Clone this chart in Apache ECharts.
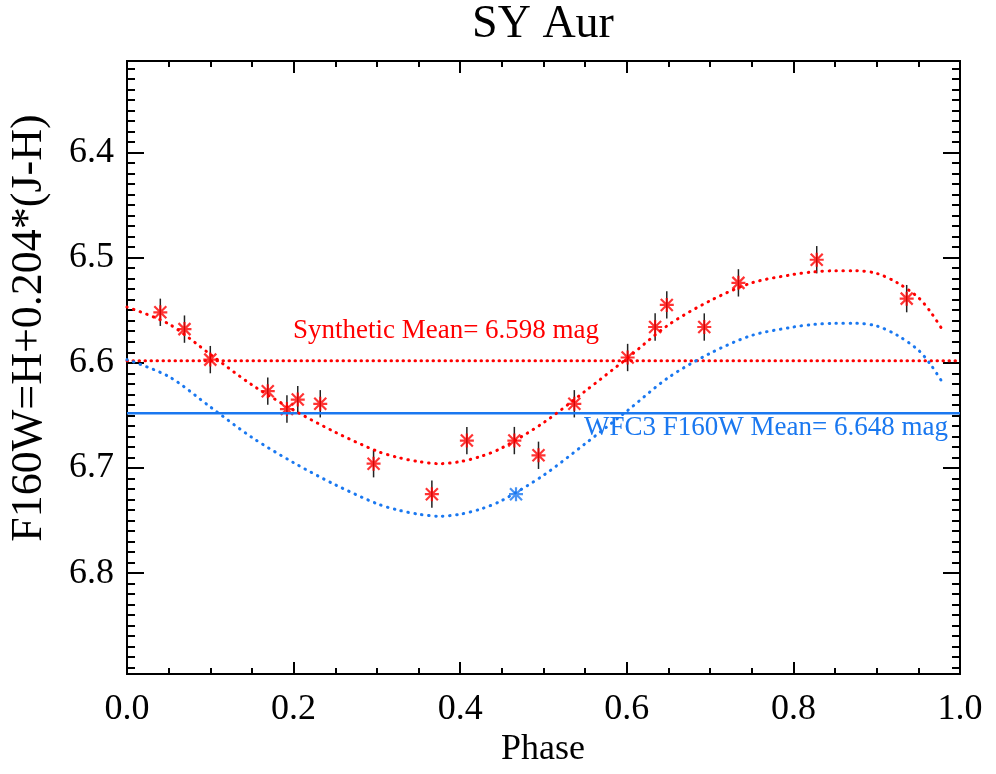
<!DOCTYPE html>
<html>
<head>
<meta charset="utf-8">
<title>SY Aur</title>
<script src="https://cdn.jsdelivr.net/npm/echarts@6/dist/echarts.min.js"></script>
<style>
  html, body { margin: 0; padding: 0; background: #fff; }
  #chart { width: 996px; height: 774px; }
</style>
</head>
<body>
<div id="chart"></div>
<script>
// synthetic (ground-based) photometry points, F160W-equivalent
const obsPhase = [0.040, 0.069, 0.100, 0.169, 0.192, 0.205, 0.232, 0.296, 0.366, 0.408,
                  0.465, 0.494, 0.537, 0.601, 0.634, 0.648, 0.693, 0.734, 0.828, 0.936];
const obsMag   = [6.552, 6.568, 6.597, 6.627, 6.644, 6.635, 6.639, 6.696, 6.725, 6.674,
                  6.674, 6.688, 6.639, 6.595, 6.566, 6.545, 6.566, 6.524, 6.502, 6.539];
const obsErr   = [0.013, 0.013, 0.013, 0.013, 0.013, 0.013, 0.013, 0.013, 0.013, 0.013,
                  0.013, 0.013, 0.013, 0.013, 0.013, 0.013, 0.013, 0.013, 0.013, 0.013];

// the single WFC3 measurement
const wfcPhase = [0.467];
const wfcMag   = [6.725];

// template fits (dotted curves)
const fitPhase = [0, 0.05, 0.1, 0.15, 0.2, 0.25, 0.3, 0.325, 0.35, 0.375, 0.4, 0.425, 0.45, 0.5, 0.55,
                  0.6, 0.65, 0.7, 0.75, 0.8, 0.825, 0.85, 0.875, 0.9, 0.925, 0.95, 0.965, 0.98];
const synthFit = [6.547, 6.563, 6.592, 6.621, 6.645, 6.666, 6.684, 6.690, 6.694, 6.696, 6.694, 6.689, 6.681, 6.657, 6.627,
                  6.596, 6.564, 6.541, 6.524, 6.516, 6.5135, 6.5125, 6.5125, 6.515, 6.524, 6.538, 6.552, 6.570];
const wfcFit   = [6.597, 6.613, 6.642, 6.671, 6.695, 6.716, 6.734, 6.740, 6.744, 6.746, 6.744, 6.739, 6.731, 6.707, 6.677,
                  6.646, 6.614, 6.591, 6.574, 6.566, 6.5635, 6.5625, 6.5625, 6.565, 6.574, 6.588, 6.602, 6.620];

const synthMean = 6.598;
const wfcMean = 6.648;

// axes
const yMin = 6.313, yMax = 6.896;
const yTicks = [6.4, 6.5, 6.6, 6.7, 6.8];

const RED = '#ff0000';
const BLUE = '#1a78f0';
const FONT = 'Liberation Serif';

// minor y ticks every 0.01
let yMinor = [];
for (let k = Math.ceil(yMin * 100); k <= Math.floor(yMax * 100); k++) {
    yMinor.push(k / 100);
}

function pairs(xs, ys) {
    return xs.map((x, i) => [x, ys[i]]);
}

// asterisk like IDL psym=2
const starPath = 'path://M0,-7L0,7M-7,0L7,0M-6,-6L6,6M-6,6L6,-6';

function yAxisDef(pos, ticks, len, labels) {
    return {
        type: 'value',
        position: pos,
        min: yMin,
        max: yMax,
        inverse: true,
        splitLine: {show: false},
        axisLine: {show: true, onZero: false, lineStyle: {color: '#000', width: 2}},
        axisTick: {show: true, inside: true, length: len, customValues: ticks,
            lineStyle: {color: '#000', width: 2}},
        axisLabel: labels ? {
            show: true, customValues: ticks, margin: 13,
            fontFamily: FONT, fontSize: 36, color: '#000',
            formatter: v => v.toFixed(1)
        } : {show: false}
    };
}

function xAxisDef(pos, labels) {
    return {
        type: 'value',
        position: pos,
        min: 0,
        max: 1,
        interval: 0.2,
        splitLine: {show: false},
        axisLine: {show: true, onZero: false, lineStyle: {color: '#000', width: 2}},
        axisTick: {show: true, inside: true, length: 12, lineStyle: {color: '#000', width: 2}},
        minorTick: {show: true, splitNumber: 4, length: 6, lineStyle: {color: '#000', width: 2}},
        axisLabel: labels ? {
            show: true, margin: 18,
            fontFamily: FONT, fontSize: 36, color: '#000',
            formatter: v => v.toFixed(1)
        } : {show: false}
    };
}

function label(text, x, y, size, color, rot) {
    return {
        type: 'text', x: x, y: y, z: 10, rotation: rot || 0,
        style: {text: text, fontFamily: FONT, fontSize: size, fill: color,
            textAlign: 'center', textVerticalAlign: 'middle'}
    };
}

const myChart = echarts.init(document.getElementById('chart'));

const dotted = color => ({color: color, width: 3, type: [0.5, 6.5], cap: 'round'});

const option = {
    backgroundColor: '#fff',
    animation: false,
    grid: {left: 127, right: 36, top: 61, bottom: 100},
    xAxis: [xAxisDef('bottom', true), xAxisDef('top', false)],
    yAxis: [
        yAxisDef('left', yTicks, 17, true),
        yAxisDef('left', yMinor, 8, false),
        yAxisDef('right', yTicks, 17, false),
        yAxisDef('right', yMinor, 8, false)
    ],
    graphic: [
        label('SY Aur', 543, 25, 46, '#000'),
        label('Phase', 543, 750, 36, '#000'),
        label('F160W=H+0.204*(J-H)', 29, 328, 44, '#000', Math.PI / 2),
        label('Synthetic Mean= 6.598 mag', 446, 331, 27, RED),
        label('WFC3 F160W Mean= 6.648 mag', 766, 428, 27, BLUE)
    ],
    series: [
        {
            name: 'synth mean', type: 'line', showSymbol: false, silent: true,
            data: [[0, synthMean], [1, synthMean]],
            lineStyle: {color: RED, width: 3, type: [0.5, 5.5], cap: 'round'}
        },
        {
            name: 'wfc mean', type: 'line', showSymbol: false, silent: true,
            data: [[0, wfcMean], [1, wfcMean]],
            lineStyle: {color: BLUE, width: 2.5}
        },
        {
            name: 'synth fit', type: 'line', showSymbol: false, smooth: 0.3, silent: true,
            data: pairs(fitPhase, synthFit),
            lineStyle: dotted(RED)
        },
        {
            name: 'wfc fit', type: 'line', showSymbol: false, smooth: 0.3, silent: true,
            data: pairs(fitPhase, wfcFit),
            lineStyle: dotted(BLUE)
        },
        {
            // error bars
            name: 'errors', type: 'custom', silent: true,
            data: obsPhase.map((p, i) => [p, obsMag[i], obsErr[i]]),
            renderItem: function (params, api) {
                let x = api.value(0), y = api.value(1), e = api.value(2);
                let p1 = api.coord([x, y - e]);
                let p2 = api.coord([x, y + e]);
                return {
                    type: 'line',
                    shape: {x1: p1[0], y1: p1[1], x2: p2[0], y2: p2[1]},
                    style: {stroke: '#222', lineWidth: 1.5}
                };
            }
        },
        {
            name: 'synthetic', type: 'scatter', symbol: starPath, symbolSize: 14,
            data: pairs(obsPhase, obsMag),
            itemStyle: {color: 'none', borderColor: RED, borderWidth: 2.2}
        },
        {
            name: 'wfc3', type: 'scatter', symbol: starPath, symbolSize: 14,
            data: pairs(wfcPhase, wfcMag),
            itemStyle: {color: 'none', borderColor: BLUE, borderWidth: 2.2}
        }
    ]
};

myChart.setOption(option);
</script>
</body>
</html>
